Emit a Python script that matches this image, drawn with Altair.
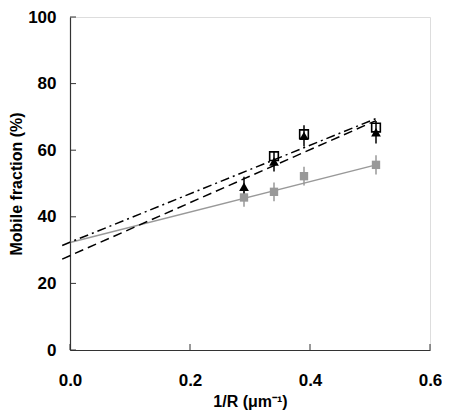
import altair as alt
import pandas as pd

# Data
x_pts = [0.29, 0.34, 0.39, 0.51]
gray_mean = [45.8, 47.5, 52.2, 55.6]
gray_err = [2.8, 2.8, 2.8, 2.9]
tri_mean = [49.0, 56.6, 64.3, 65.4]
tri_err = [3.0, 3.0, 3.2, 3.4]
open_x = [0.34, 0.39, 0.51]
open_mean = [58.2, 64.8, 66.8]

gray_line_x = [0.0, 0.51]
gray_line_y = [32.3, 55.6]
dashdot_x = [-0.013, 0.51]
dashdot_y = [31.4, 69.5]
dashed_x = [-0.013, 0.51]
dashed_y = [27.3, 68.9]

y_ticks = [0, 20, 40, 60, 80, 100]
x_ticks = [0.0, 0.2, 0.4, 0.6]

FONT = "Liberation Sans"
W, H = 360, 333

xscale = alt.Scale(domain=[0, 0.6], nice=False)
yscale = alt.Scale(domain=[0, 100], nice=False)

xaxis = alt.Axis(values=x_ticks, format=".1f", title="1/R (μm⁻¹)", ticks=False, tickSize=0,
                 labelPadding=22, labelFontSize=17, labelFont=FONT, labelFontWeight="bold",
                 labelColor="black", titleFontSize=16, titleFont=FONT, titleFontWeight="bold",
                 titleColor="black", titleY=56, titleBaseline="alphabetic", grid=False,
                 domainColor="#333333", domainWidth=1.2, labelFlush=False)
yaxis = alt.Axis(values=y_ticks, title="Mobile fraction (%)", ticks=False, tickSize=0,
                 labelPadding=14, labelFontSize=17, labelFont=FONT, labelFontWeight="bold",
                 labelColor="black", titleFontSize=16, titleFont=FONT, titleFontWeight="bold",
                 titleColor="black", titleX=-49, titleY=H / 2, titleAngle=270,
                 titleBaseline="alphabetic", titleAlign="center", grid=False,
                 domainColor="#333333", domainWidth=1.2, labelFlush=False)

gray_df = pd.DataFrame({"x": x_pts, "y": gray_mean,
                        "lo": [m - e for m, e in zip(gray_mean, gray_err)],
                        "hi": [m + e for m, e in zip(gray_mean, gray_err)]})
tri_df = pd.DataFrame({"x": x_pts, "y": tri_mean,
                       "lo": [m - e for m, e in zip(tri_mean, tri_err)],
                       "hi": [m + e for m, e in zip(tri_mean, tri_err)]})
open_df = pd.DataFrame({"x": open_x, "y": open_mean})
gline_df = pd.DataFrame({"x": gray_line_x, "y": gray_line_y})
dd_df = pd.DataFrame({"x": dashdot_x, "y": dashdot_y})
da_df = pd.DataFrame({"x": dashed_x, "y": dashed_y})
yt_df = pd.DataFrame({"y": y_ticks})
xt_df = pd.DataFrame({"x": x_ticks})

X = alt.X("x:Q", scale=xscale, axis=xaxis)
Y = alt.Y("y:Q", scale=yscale, axis=yaxis)

gline = alt.Chart(gline_df).mark_line(color="#999999", strokeWidth=1.5).encode(x=X, y=Y)
ddline = alt.Chart(dd_df).mark_line(color="black", strokeWidth=1.5, strokeDash=[9, 4, 2, 4]).encode(x="x:Q", y="y:Q")
daline = alt.Chart(da_df).mark_line(color="black", strokeWidth=1.5, strokeDash=[9, 5]).encode(x="x:Q", y="y:Q")

gerr = alt.Chart(gray_df).mark_rule(color="#999999", strokeWidth=1.5).encode(x="x:Q", y="lo:Q", y2="hi:Q")
terr = alt.Chart(tri_df).mark_rule(color="black", strokeWidth=1.5).encode(x="x:Q", y="lo:Q", y2="hi:Q")

gpts = alt.Chart(gray_df).mark_point(shape="square", filled=True, color="#999999", size=70, opacity=1).encode(x="x:Q", y="y:Q")
opts = alt.Chart(open_df).mark_point(shape="square", filled=False, color="black", size=75, strokeWidth=1.6, opacity=1).encode(x="x:Q", y="y:Q")
tpts = alt.Chart(tri_df).mark_point(shape="triangle-up", filled=True, color="black", size=95, opacity=1).encode(x="x:Q", y="y:Q")

yt = alt.Chart(yt_df).mark_rule(color="#333333", strokeWidth=1).encode(y="y:Q", x=alt.value(0), x2=alt.value(6))
xt = alt.Chart(xt_df).mark_rule(color="#333333", strokeWidth=1).encode(x="x:Q", y=alt.value(H), y2=alt.value(H - 6))

chart = alt.layer(gline, ddline, daline, gerr, terr, gpts, opts, tpts, yt, xt).properties(
    width=W, height=H,
    autosize=alt.AutoSizeParams(type="none"),
    padding={"left": 62, "top": 9, "right": 12, "bottom": 60},
).configure_view(stroke="#999999", strokeWidth=1.2).configure(background="white")

chart.save("out.html", embed_options={"renderer": "svg", "actions": False})
